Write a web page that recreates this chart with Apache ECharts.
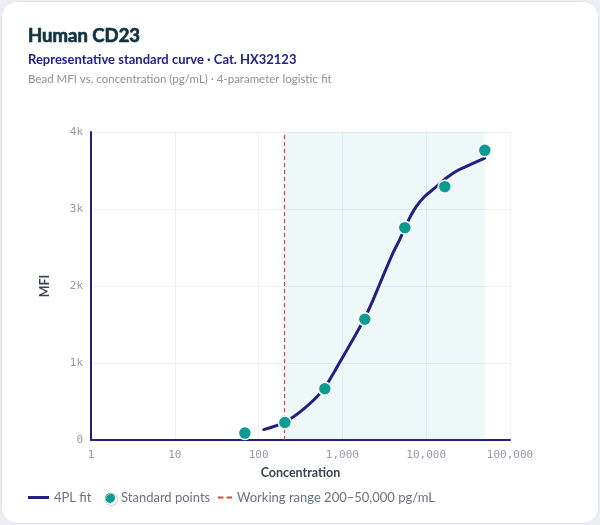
<!DOCTYPE html>
<html lang="en">
<head>
<meta charset="UTF-8">
<title>Human CD23</title>
<script src="https://cdn.jsdelivr.net/npm/echarts@6/dist/echarts.min.js"></script>
<style>
  html, body { margin: 0; padding: 0; background: #eceef4; }
  #card {
    position: absolute; left: 1px; top: 1px; width: 596px; height: 521px;
    background: #fff; border: 1px solid #dfe1ea; border-radius: 16px; overflow: hidden;
  }
  #chart { width: 596px; height: 521px; }
</style>
</head>
<body>
<div id="card"><div id="chart"></div></div>
<script type="text/javascript">
  // standards (3-fold dilution) and measured MFI
  var stdConc = [68.6, 205.8, 617.3, 1851.9, 5555.6, 16666.7, 50000];
  var stdMfi = [90, 228, 665, 1568, 2758, 3290, 3762];

  // 4PL fit curve
  var fitConc = [115, 200, 355, 600, 980, 1410, 1820, 2340, 2750, 3980, 4810, 6030, 7590, 9700, 12500, 15700, 20700, 24800, 50000];
  var fitMfi = [135, 226, 415, 665, 1052, 1352, 1568, 1826, 2010, 2420, 2600, 2836, 3030, 3168, 3267, 3365, 3461, 3512, 3662];

  var rangeLow = 200, rangeHigh = 50000;
  var xTicks = ['1', '10', '100', '1,000', '10,000', '100,000'];
  var yTicks = ['0', '1k', '2k', '3k', '4k'];

  var font = 'Lato, "Noto Sans", sans-serif';
  var mono = '"DejaVu Sans Mono", monospace';
  var indigo = '#23207f';
  var teal = '#0b9b92';
  var red = '#d9464b';

  function pairs(xs, ys) {
    var out = [];
    for (var i = 0; i < xs.length; i++) out.push([xs[i], ys[i]]);
    return out;
  }

  var legendText = { fontFamily: font, fontSize: 13, color: '#6c7181' };

  var myChart = echarts.init(document.getElementById('chart'));
  var option = {
    backgroundColor: '#fff',
    animation: false,
    title: [
      { text: 'Human CD23', left: 26, top: 25, padding: 0,
        textStyle: { fontFamily: font, fontSize: 18.5, fontWeight: 'bold', color: '#113440',
          textBorderColor: '#113440', textBorderWidth: 0.7 } },
      { text: 'Representative standard curve · Cat. HX32123', left: 26, top: 51, padding: 0,
        textStyle: { fontFamily: font, fontSize: 13, fontWeight: 'bold', color: '#25208c' } },
      { text: 'Bead MFI vs. concentration (pg/mL) · 4-parameter logistic fit', left: 26, top: 71, padding: 0,
        textStyle: { fontFamily: font, fontSize: 11.5, fontWeight: 'normal', color: '#8b909b' } }
    ],
    grid: { left: 89, right: 88, top: 130, bottom: 83 },
    legend: [
      { left: 26, top: 489, padding: 0, itemWidth: 21, itemHeight: 12,
        textStyle: legendText,
        data: [{ name: '4PL fit', icon: 'path://M0,0h21v3h-21z' }] },
      { left: 101, top: 489, padding: 0, itemWidth: 12, itemHeight: 12,
        textStyle: legendText,
        itemStyle: { color: teal, borderColor: '#fff', borderWidth: 2, opacity: 1 },
        data: [{ name: 'Standard points', icon: 'circle' }] },
      { left: 216, top: 489, padding: 0, itemWidth: 14, itemHeight: 12,
        textStyle: legendText,
        data: [{ name: 'Working range 200–50,000 pg/mL', icon: 'path://M0,0h5.5v2h-5.5z M8.5,0h5.5v2h-5.5z' }] }
    ],
    graphic: [
      { type: 'circle', left: 101, top: 489, z: 100, silent: true,
        shape: { r: 6 }, style: { fill: 'none', stroke: '#c5c8d3', lineWidth: 1 } }
    ],
    xAxis: {
      type: 'log', logBase: 10, min: 1, max: 100000,
      name: 'Concentration', nameLocation: 'middle', nameGap: 26,
      nameTextStyle: { fontFamily: font, fontSize: 12.5, fontWeight: 'bold', color: '#3d4252' },
      axisLine: { lineStyle: { color: indigo, width: 2 } },
      axisTick: { show: false },
      axisLabel: {
        fontFamily: mono, fontSize: 11, color: '#9699ab', margin: 10,
        formatter: function (v) { return xTicks[Math.round(Math.log10(v))]; }
      },
      splitLine: { show: true, lineStyle: { color: '#eef0f6', width: 1 } }
    },
    yAxis: {
      type: 'value', min: 0, max: 4000, interval: 1000,
      name: 'MFI', nameLocation: 'middle', nameGap: 40,
      nameTextStyle: { fontFamily: font, fontSize: 12.5, fontWeight: 'bold', color: '#3d4252' },
      axisLine: { show: true, lineStyle: { color: indigo, width: 2 } },
      axisTick: { show: false },
      axisLabel: {
        fontFamily: mono, fontSize: 11, color: '#9699ab', margin: 8,
        formatter: function (v) { return yTicks[Math.round(v / 1000)]; }
      },
      splitLine: { lineStyle: { color: '#eef0f6', width: 1 } }
    },
    series: [
      {
        name: '4PL fit', type: 'line', data: pairs(fitConc, fitMfi),
        smooth: 0.25, showSymbol: false, symbol: 'none', z: 3,
        lineStyle: { color: indigo, width: 3, cap: 'round' },
        itemStyle: { color: indigo }
      },
      {
        name: 'Standard points', type: 'scatter', data: pairs(stdConc, stdMfi),
        symbolSize: 13, z: 5,
        itemStyle: { color: teal, borderColor: '#fff', borderWidth: 1.5, opacity: 1 }
      },
      {
        name: 'Working range 200–50,000 pg/mL', type: 'line', data: [], z: 1,
        symbol: 'none',
        lineStyle: { color: red, width: 1.5, type: 'dashed' },
        itemStyle: { color: red },
        markArea: {
          silent: true,
          itemStyle: { color: 'rgba(20,160,170,0.07)' },
          data: [[{ xAxis: rangeLow }, { xAxis: rangeHigh }]]
        },
        markLine: {
          silent: true, symbol: 'none', label: { show: false },
          lineStyle: { color: red, width: 1.2, type: [4, 3] },
          data: [{ xAxis: rangeLow }]
        }
      }
    ]
  };

  if (option && typeof option === 'object') {
    myChart.setOption(option, true);
  }
</script>
</body>
</html>
